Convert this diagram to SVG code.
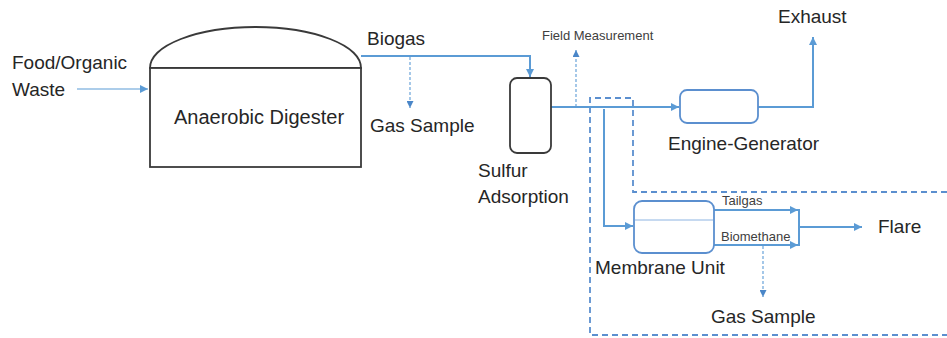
<svg xmlns="http://www.w3.org/2000/svg" width="947" height="338" viewBox="0 0 947 338">
<style>
text{font-family:"Liberation Sans",Arial,sans-serif;fill:#262626}
.big{font-size:19px}
.sm{font-size:13px;fill:#404040}
.vessel{fill:#fff;stroke:#3a3a3a;stroke-width:1.8}
.unit{fill:#fff;stroke:#5b8fcf;stroke-width:1.8}
.flow{fill:none;stroke:#5b9bd5;stroke-width:2}
.thin{fill:none;stroke:#5b9bd5;stroke-width:1.2}
.samp{fill:none;stroke:#5b9bd5;stroke-width:1.1;stroke-dasharray:3 2}
.zone{fill:none;stroke:#5b8fcf;stroke-width:1.8;stroke-dasharray:6 4}
</style>
<defs>
<marker id="ah" markerUnits="userSpaceOnUse" markerWidth="9" markerHeight="8" refX="8" refY="4" orient="auto">
<path d="M0,0 L8,4 L0,8 Z" fill="#5b9bd5"/>
</marker>
<marker id="ahs" markerUnits="userSpaceOnUse" markerWidth="8" markerHeight="7" refX="7" refY="3.5" orient="auto">
<path d="M0,0 L7,3.5 L0,7 Z" fill="#4a86c8"/>
</marker>
</defs>

<g id="zone">
<path class="zone" d="M947,192 L633,192 L633,98 L590,98 L590,335 L947,335"/>
</g>

<g id="connectors">
<path class="thin" d="M77,89 L148,89" marker-end="url(#ah)"/>
<path class="flow" d="M361,56 L530,56 L530,77" marker-end="url(#ah)"/>
<path class="samp" d="M410,57 L410,108" marker-end="url(#ahs)"/>
<path class="flow" d="M551,107 L679,107" marker-end="url(#ah)"/>
<path class="samp" d="M576,107 L576,50" marker-end="url(#ahs)"/>
<path class="flow" d="M604,109 L604,226 L633,226" marker-end="url(#ah)"/>
<path class="flow" d="M758,107 L813,107 L813,37" marker-end="url(#ah)"/>
<path class="flow" d="M714,210 L798,210" marker-end="url(#ah)"/>
<path class="flow" d="M714,245 L798,245" marker-end="url(#ah)"/>
<path class="flow" d="M799,209 L799,246"/>
<path class="flow" d="M799,227 L862,227" marker-end="url(#ah)"/>
<path class="samp" d="M763,246 L763,297" marker-end="url(#ahs)"/>
</g>

<g id="feed">
<text class="big" x="12" y="69">Food/Organic</text>
<text class="big" x="12" y="96">Waste</text>
</g>

<g id="digester">
<path class="vessel" d="M150,68 A105.5,41 0 0 1 361,68 Z"/>
<rect class="vessel" x="150" y="68" width="211" height="99"/>
<text class="big" x="259" y="124" text-anchor="middle" style="font-size:20px">Anaerobic Digester</text>
</g>

<g id="biogas-label"><text class="big" x="367" y="45">Biogas</text></g>
<g id="gas-sample-1"><text class="big" x="370" y="132">Gas Sample</text></g>

<g id="sulfur">
<rect class="vessel" x="510" y="78" width="41" height="75" rx="7"/>
<text class="big" x="478" y="177">Sulfur</text>
<text class="big" x="478" y="203">Adsorption</text>
</g>

<g id="field-measurement"><text class="sm" x="542" y="40">Field Measurement</text></g>

<g id="engine">
<rect class="unit" x="680" y="90" width="78" height="33" rx="7"/>
<text class="big" x="668" y="150">Engine-Generator</text>
</g>

<g id="exhaust"><text class="big" x="778" y="23">Exhaust</text></g>

<g id="membrane">
<rect class="unit" x="634" y="201" width="80" height="52" rx="8"/>
<line x1="635" y1="220" x2="713" y2="220" stroke="#8db4e2" stroke-width="1"/>
<text class="big" x="595" y="274">Membrane Unit</text>
</g>

<g id="tailgas"><text class="sm" x="722" y="205">Tailgas</text></g>
<g id="biomethane"><text class="sm" x="721" y="241">Biomethane</text></g>
<g id="flare"><text class="big" x="878" y="233">Flare</text></g>
<g id="gas-sample-2"><text class="big" x="711" y="323">Gas Sample</text></g>
</svg>
